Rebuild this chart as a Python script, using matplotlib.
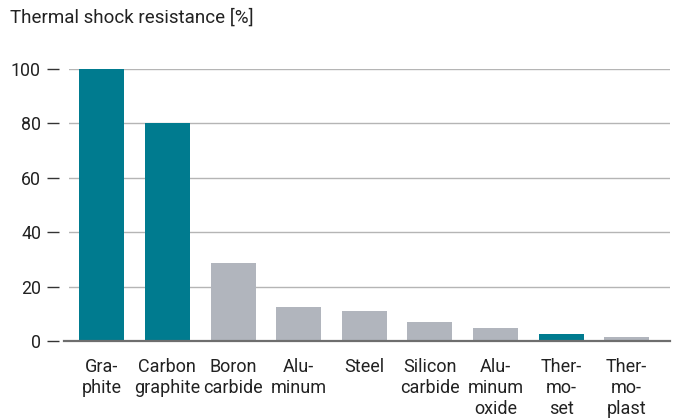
import matplotlib
matplotlib.use("Agg")
import matplotlib.pyplot as plt

categories = ["Gra-\nphite", "Carbon\ngraphite", "Boron\ncarbide", "Alu-\nminum", "Steel",
              "Silicon\ncarbide", "Alu-\nminum\noxide", "Ther-\nmo-\nset", "Ther-\nmo-\nplast"]
values = [100, 80, 28.8, 12.6, 11.2, 7.1, 4.9, 2.7, 1.3]
highlight = [True, True, False, False, False, False, False, True, False]
yticks = [0, 20, 40, 60, 80, 100]

TEAL = "#007B8F"
GRAY = "#B1B5BD"
plt.rcParams['font.family'] = ['Roboto', 'DejaVu Sans']
FS = 13.5
PX = 72 / 100  # points per pixel

fig = plt.figure(figsize=(6.78, 4.2), dpi=100)
ax = fig.add_axes([69/678, 1-341/420, (670-69)/678, (341-69)/420])

for s in ["top", "right", "bottom"]:
    ax.spines[s].set_visible(False)
ax.spines["left"].set_position(("outward", 10 * PX))
ax.spines["left"].set_visible(False)

x = list(range(len(categories)))
colors = [TEAL if h else GRAY for h in highlight]
ax.bar(x, values, width=0.685, color=colors, zorder=3)

ax.set_xlim(-0.5, 8.66)
ax.set_ylim(0, 100)
ax.set_yticks(yticks)
ax.set_yticklabels([str(v) for v in yticks], fontsize=12.8, color="#222222")
ax.set_xticks(x)
ax.set_xticklabels(categories, fontsize=13, color="#222222", linespacing=1.22)
ax.tick_params(axis='x', length=0, pad=12)
ax.tick_params(axis='y', length=12 * PX, width=1.0, color="#333333", pad=6 * PX, direction='out')

for v in yticks[1:]:
    ax.axhline(v, color="#B5B5B5", linewidth=1.0, zorder=1)
ax.axhline(0, xmin=-0.008, xmax=1, color="#6E6E6E", linewidth=1.6, zorder=4, clip_on=False)

fig.text(10/678, 1-18/420, "Thermal shock resistance [%]", fontsize=FS, color="#222222",
         va="center", ha="left")

fig.savefig("out.png", dpi=100)
